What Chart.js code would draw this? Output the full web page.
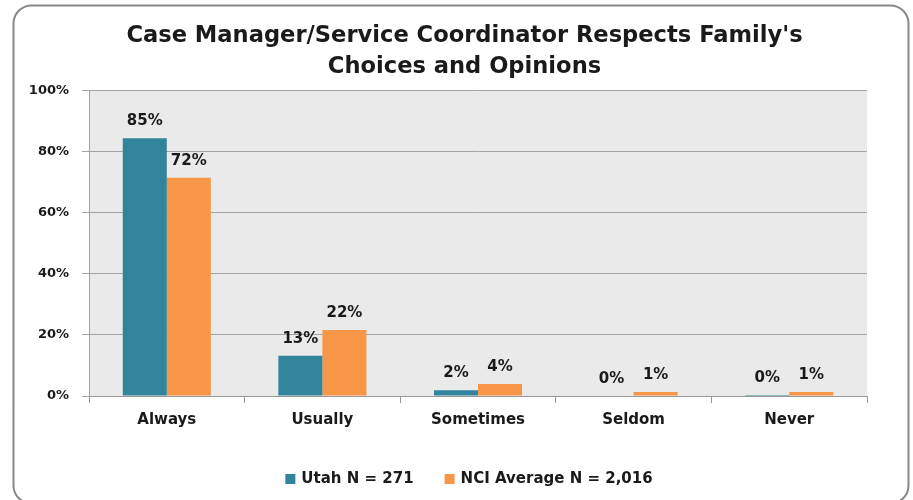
<!DOCTYPE html>
<html>
<head>
<meta charset="utf-8">
<script src="https://cdn.jsdelivr.net/npm/chart.js@4"></script>
<style>
  html, body { margin: 0; padding: 0; background: #ffffff; }
  #wrap { width: 913px; height: 500px; position: relative; }
</style>
</head>
<body>
<div id="wrap"><canvas id="chart" width="913" height="500"></canvas></div>
<script>
const titleLines = ["Case Manager/Service Coordinator Respects Family's", 'Choices and Opinions'];
const categories = ['Always', 'Usually', 'Sometimes', 'Seldom', 'Never'];
const seriesNames = ['Utah N = 271', 'NCI Average N = 2,016'];
const utahValues = [84.5, 13.2, 1.9, 0, 0.3];
const nciValues = [71.5, 21.6, 3.9, 1.3, 1.3];
const seriesColors = ['#31849B', '#F79646'];
const yTicks = [0, 20, 40, 60, 80, 100];

const FONT = "'DejaVu Sans', Verdana, sans-serif";

const framePlugin = {
  id: 'frame',
  beforeDraw(chart) {
    const { ctx, chartArea } = chart;
    ctx.save();
    ctx.fillStyle = '#eaeaea';
    ctx.fillRect(chartArea.left, chartArea.top, chartArea.right - chartArea.left, chartArea.bottom - chartArea.top);
    ctx.strokeStyle = '#888888';
    ctx.lineWidth = 2;
    ctx.beginPath();
    ctx.roundRect(13.5, 5.5, 895, 498, 18);
    ctx.stroke();
    ctx.restore();
  }
};

const valueLabels = {
  id: 'valueLabels',
  afterDatasetsDraw(chart) {
    const { ctx } = chart;
    ctx.save();
    ctx.font = `bold 15px ${FONT}`;
    ctx.fillStyle = '#1a1a1a';
    ctx.textAlign = 'center';
    ctx.textBaseline = 'middle';
    chart.data.datasets.forEach((dataset, i) => {
      chart.getDatasetMeta(i).data.forEach((bar, j) => {
        ctx.fillText(`${Math.round(dataset.data[j])}%`, bar.x, bar.y - 17);
      });
    });
    ctx.restore();
  }
};

const legendPlugin = {
  id: 'manualLegend',
  afterDraw(chart) {
    const { ctx } = chart;
    ctx.save();
    ctx.font = `bold 15px ${FONT}`;
    ctx.textBaseline = 'middle';
    ctx.textAlign = 'left';
    const widths = seriesNames.map((name) => ctx.measureText(name).width);
    const total = widths.reduce((a, w) => a + w + 10 + 6, 0) + 31;
    let x = 469 - total / 2;
    const y = 479;
    seriesNames.forEach((name, i) => {
      ctx.fillStyle = seriesColors[i];
      ctx.fillRect(x, y - 5, 10, 10);
      ctx.fillStyle = '#1a1a1a';
      ctx.fillText(name, x + 16, y);
      x += 16 + widths[i] + 31;
    });
    ctx.restore();
  }
};

new Chart(document.getElementById('chart').getContext('2d'), {
  type: 'bar',
  data: {
    labels: categories,
    datasets: [
      {
        label: seriesNames[0],
        data: utahValues,
        backgroundColor: seriesColors[0],
        categoryPercentage: 0.566,
        barPercentage: 1
      },
      {
        label: seriesNames[1],
        data: nciValues,
        backgroundColor: seriesColors[1],
        categoryPercentage: 0.566,
        barPercentage: 1
      }
    ]
  },
  options: {
    responsive: false,
    animation: false,
    devicePixelRatio: 1,
    layout: {
      padding: { left: 16, right: 0, top: 0, bottom: 0 }
    },
    plugins: {
      legend: { display: false },
      tooltip: { enabled: false },
      title: {
        display: true,
        text: titleLines,
        color: '#1a1a1a',
        padding: { top: 21, bottom: 8 },
        font: { family: FONT, size: 22.6, weight: 'bold', lineHeight: 1.37 }
      }
    },
    scales: {
      x: {
        offset: true,
        afterFit(scale) {
          scale.height = 104;
        },
        grid: {
          display: true,
          drawOnChartArea: false,
          offset: true,
          tickLength: 7,
          color: '#999999'
        },
        border: { display: true, color: '#999999' },
        ticks: {
          color: '#1a1a1a',
          padding: 8,
          font: { family: FONT, size: 15, weight: 'bold' }
        }
      },
      y: {
        min: 0,
        max: 100,
        afterFit(scale) {
          scale.width = 73;
        },
        afterBuildTicks(scale) {
          scale.ticks = yTicks.map((value) => ({ value }));
        },
        grid: {
          color: '#a3a3a3',
          tickLength: 7
        },
        border: { display: true, color: '#a3a3a3' },
        ticks: {
          color: '#1a1a1a',
          padding: 13,
          font: { family: FONT, size: 13, weight: 'bold' },
          callback(value) {
            return `${value}%`;
          }
        }
      },
      spacer: {
        type: 'linear',
        position: 'right',
        display: true,
        afterFit(scale) {
          scale.width = 46;
        },
        grid: { display: false },
        border: { display: false },
        ticks: { display: false }
      }
    }
  },
  plugins: [framePlugin, valueLabels, legendPlugin]
});
</script>
</body>
</html>
